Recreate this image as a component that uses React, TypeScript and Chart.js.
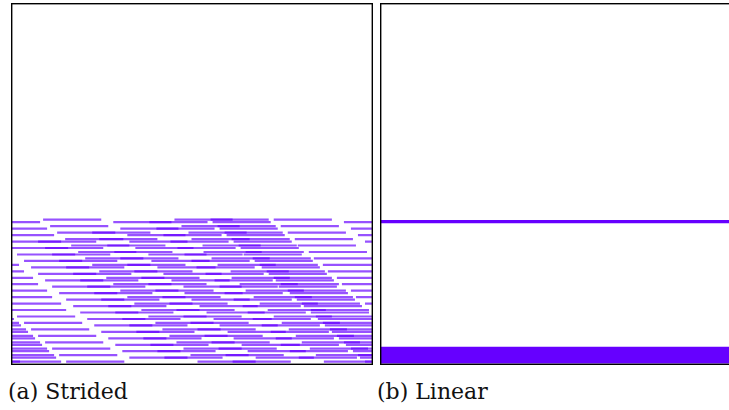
import React, { useEffect, useRef } from "react";
import { Chart, registerables } from "chart.js";

Chart.register(...registerables);

// Address range (x) and time (y) of each panel
const ADDR_MAX = 361;
const TIME_MAX = 362;
const SEG_LEN = 58;

// (a) Strided: time of each row of accesses
const stridedRowY: number[] = [
  216.7, 219.2, 223.2, 225.7, 229.6, 232.1, 236.1, 238.6, 242.5, 245.0,
  249.0, 251.5, 255.4, 257.9, 261.9, 264.4, 268.3, 270.8, 274.8, 277.3,
  281.2, 283.7, 287.7, 290.2, 294.1, 296.6, 300.6, 303.1, 307.0, 309.5,
  313.5, 316.0, 319.9, 322.4, 326.4, 328.9, 332.8, 335.3, 339.3, 341.8,
  345.7, 348.2, 352.2, 354.7, 358.6,
];

// (a) Strided: first address of each accessed block, per row
const stridedRowStarts: number[][] = [
  [32, 163, 199, 262],
  [-29, 102, 138, 201, 332],
  [39, 170, 206, 269],
  [-22, 109, 145, 208, 339],
  [46, 81, 177, 213, 276],
  [-15, 116, 152, 215, 346],
  [54, 88, 180, 220, 283],
  [-8, 27, 118, 159, 222, 353],
  [60, 96, 191, 227, 286],
  [-1, 34, 124, 166, 229],
  [67, 103, 192, 234, 297],
  [6, 41, 137, 173, 232],
  [74, 109, 200, 241, 302],
  [13, 48, 140, 180, 243],
  [81, 116, 206, 248, 311, -50],
  [20, 55, 146, 185, 250],
  [88, 123, 219, 255, 316, -45],
  [27, 62, 152, 194, 257],
  [95, 130, 220, 262, 325, -36],
  [34, 69, 160, 203, 264],
  [102, 137, 228, 269, 330, -31],
  [41, 76, 172, 208, 267],
  [109, 144, 234, 276, 339, -22],
  [48, 83, 173, 213, 278],
  [116, 151, 242, 283, 344, -17],
  [55, 90, 180, 222, 285],
  [123, 158, 248, 290, 353, -8],
  [62, 97, 188, 231, 292],
  [130, 165, 256, 299, -3],
  [69, 104, 195, 236, 299],
  [137, 172, 262, 304, 6],
  [76, 111, 202, 241, 306, -55],
  [144, 179, 270, 311, 13, -50],
  [83, 118, 208, 250, 313, -48],
  [151, 186, 277, 318, 20, -43],
  [90, 125, 216, 259, 320, -41],
  [158, 193, 284, 325, 27, -36],
  [97, 132, 222, 264, 327, -34],
  [165, 200, 290, 332, 34, -29],
  [104, 139, 230, 269, 334, -27],
  [172, 207, 298, 339, 41, -22],
  [111, 146, 236, 278, 341, -20],
  [179, 214, 304, 346, 48, -15, -57],
  [118, 153, 244, 287, 348, -13],
  [186, 221, 312, 353, 55, -8, -49],
];

// (b) Linear: time of each access burst and its address range
const linearRowY: number[] = [218.6, 352.2];
const linearStart: number[] = [0, 0];
const linearEnd: number[] = [361, 361];

const captions = ["(a) Strided", "(b) Linear"];

const framePlugin = {
  id: "frame",
  afterDraw(chart: any) {
    const { ctx, chartArea } = chart;
    const { left, top, right, bottom } = chartArea;
    ctx.save();
    ctx.strokeStyle = "#000";
    ctx.lineWidth = 1.4;
    ctx.strokeRect(left + 0.7, top + 0.7, right - left - 1.4, bottom - top - 1.4);
    ctx.restore();
  },
};

function makeConfig(datasets: any[]): any {
  return {
    type: "bar",
    data: { datasets },
    options: {
      indexAxis: "y",
      animation: false,
      responsive: false,
      maintainAspectRatio: false,
      events: [],
      layout: { padding: 0 },
      plugins: { legend: { display: false }, tooltip: { enabled: false } },
      scales: {
        x: { type: "linear", min: 0, max: ADDR_MAX, offset: false, display: false },
        y: { type: "linear", min: 0, max: TIME_MAX, offset: false, reverse: true, display: false },
      },
    },
    plugins: [framePlugin],
  };
}

function Panel({ kind }: { kind: "strided" | "linear" }) {
  const ref = useRef<HTMLCanvasElement | null>(null);
  useEffect(() => {
    if (!ref.current) return;
    let datasets: any[];
    if (kind === "strided") {
      const data: any[] = [];
      stridedRowStarts.forEach((starts, i) => {
        starts.forEach((s) => data.push({ y: stridedRowY[i], x: [s, s + SEG_LEN] }));
      });
      datasets = [
        {
          data,
          backgroundColor: "rgba(102, 0, 255, 0.68)",
          borderWidth: 0,
          barThickness: 2.2,
          grouped: false,
          inflateAmount: 0,
        },
      ];
    } else {
      const thickness = [3.2, 16.7];
      datasets = linearRowY.map((y, i) => ({
        data: [{ y, x: [linearStart[i], linearEnd[i]] }],
        backgroundColor: "rgb(102, 0, 255)",
        borderWidth: 0,
        barThickness: thickness[i],
        grouped: false,
        inflateAmount: 0,
      }));
    }
    const chart = new Chart(ref.current, makeConfig(datasets));
    return () => chart.destroy();
  }, [kind]);
  return <canvas ref={ref} width={362} height={362} style={{ display: "block", width: 362, height: 362 }} />;
}

export default function App() {
  return (
    <div
      style={{
        position: "fixed",
        left: 0,
        top: 0,
        width: 729,
        height: 410,
        overflow: "hidden",
        background: "#fff",
      }}
    >
      <div style={{ position: "absolute", left: 11, top: 3 }}>
        <Panel kind="strided" />
      </div>
      <div style={{ position: "absolute", left: 380, top: 3 }}>
        <Panel kind="linear" />
      </div>
      {captions.map((c, i) => (
        <div
          key={c}
          style={{
            position: "absolute",
            left: i === 0 ? 8 : 377,
            top: 380,
            font: '22px "DejaVu Serif"',
            lineHeight: "24px",
            color: "#111",
            whiteSpace: "nowrap",
          }}
        >
          {c}
        </div>
      ))}
    </div>
  );
}
